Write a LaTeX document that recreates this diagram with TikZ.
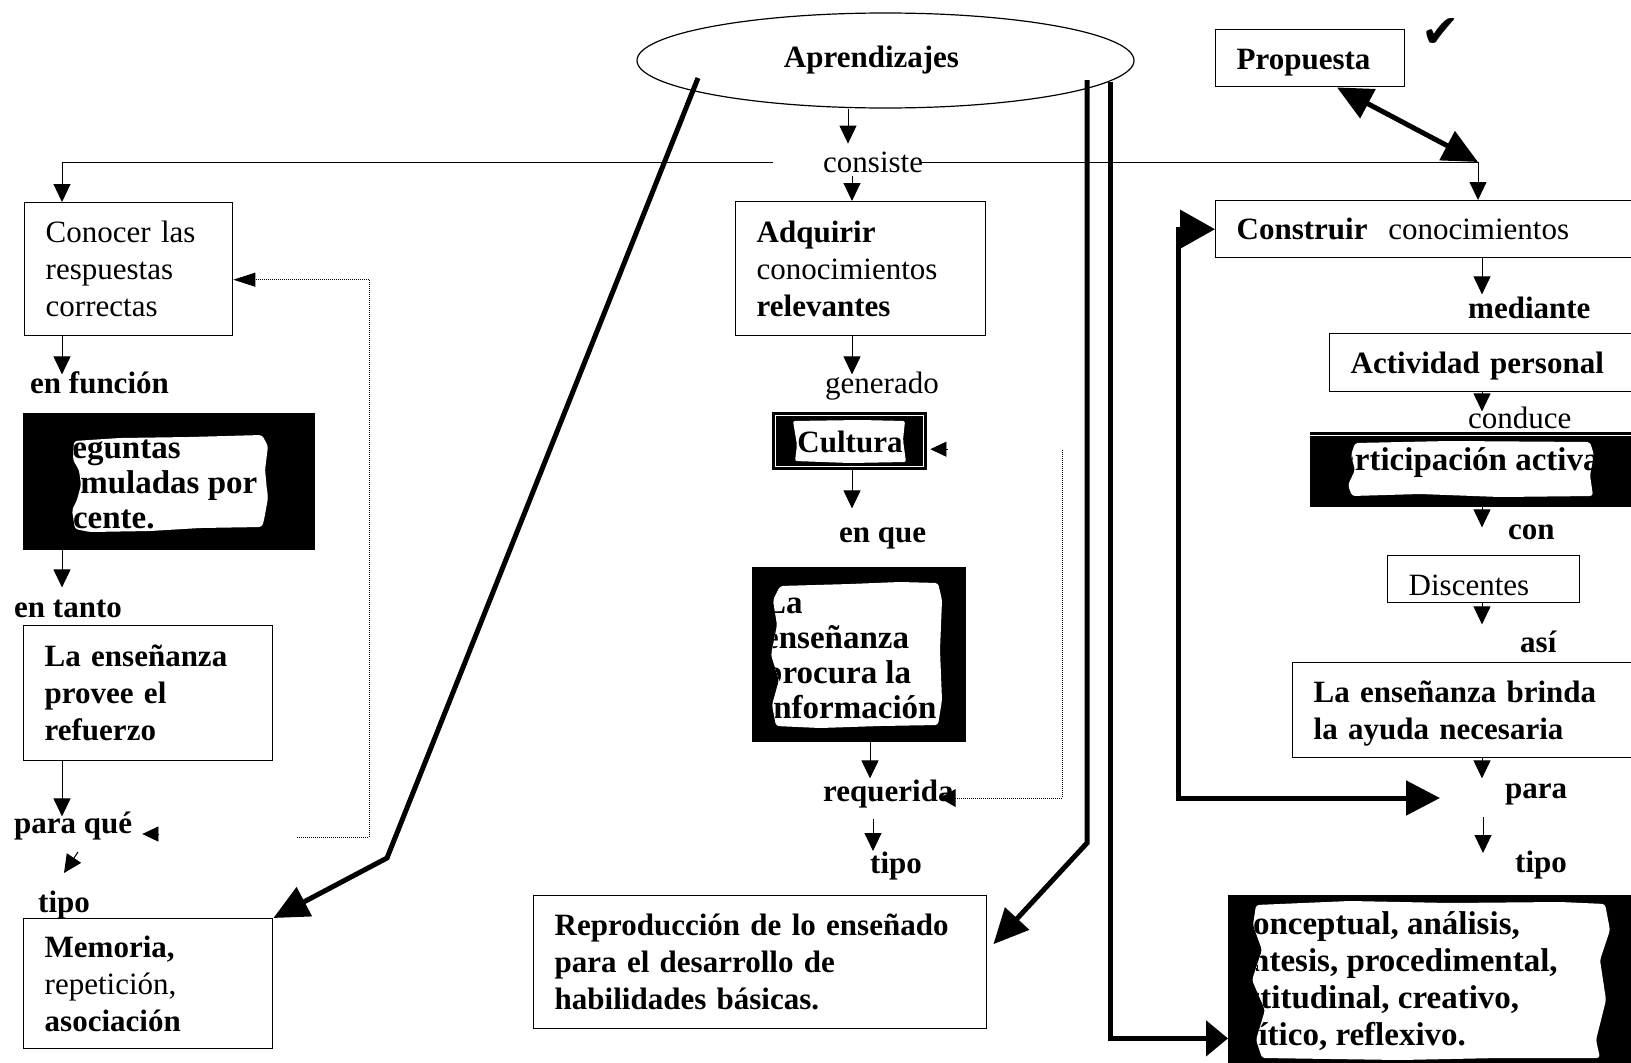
\documentclass[tikz,border=0pt]{standalone}
\usepackage{fontspec}
\setmainfont{Liberation Serif}
\newfontfamily\symfont{DejaVu Sans}
\usetikzlibrary{arrows.meta,calc,shapes.geometric}
\newcommand\bsz{\fontsize{31}{37}\selectfont}
\newcommand\ksz{\fontsize{33}{35}\selectfont}

\begin{document}
\begin{tikzpicture}[x=1pt,y=-1pt,
  cbox/.style={draw, line width=1.4pt, anchor=north west, inner xsep=21pt, inner ysep=0pt,
               align=left, font=\bsz\bfseries},
  kbox/.style={fill=black, anchor=north west, inner sep=0pt},
  ktxt/.style={anchor=north west, inner sep=0pt, align=left, font=\ksz\bfseries},
  lbl/.style={anchor=base west, inner sep=0pt, font=\bsz\bfseries},
  lblr/.style={anchor=base west, inner sep=0pt, font=\bsz},
  arr/.style={line width=1pt, -{Triangle[length=18pt,width=17pt]}},
  tiponly/.style={line width=0.6pt, -{Triangle[length=16pt,width=15pt]}},
  dotl/.style={line width=1pt, densely dotted},
  thk/.style={line width=5pt},
  bigtip/.style={-{Triangle[length=35pt,width=32pt]}},
]
\useasboundingbox (0,0) rectangle (1631,1063);
\clip (0,0) rectangle (1631,1063);

% ---------- top ----------
\node[draw, ellipse, line width=1.2pt, minimum width=497pt, minimum height=95pt,
      inner sep=0pt, font=\bsz\bfseries] (aprend) at (885.5,60.5) {Aprendizajes\hspace*{28pt}};
\node[lblr] (consiste) at (823,172) {consiste};

% ---------- left column ----------
\node[cbox, font=\bsz, minimum width=208pt, minimum height=133pt, text width=166pt, inner xsep=19pt]
      (conocer) at (24,202) {Conocer las\\respuestas\\correctas};
\node[lbl] (enfuncion) at (30,393) {en función};

\node[kbox, minimum width=292pt, minimum height=137pt] (preg) at (23,413) {};
\begin{scope}
  \clip[rounded corners=3pt] (74,441) -- (120,438) -- (190,437) -- (262,435) -- (268,446)
     -- (265,470) -- (268,498) -- (264,520) -- (262,527) -- (200,528) -- (150,531)
     -- (90,532) -- (75,529) -- (72,510) -- (77,500) -- (81,485) -- (79,470) -- (73,460) -- cycle;
  \fill[white] (0,0) rectangle (1631,1063);
  \node[ktxt] (pregtxt) at (38,433.5) {\strut Preguntas\\formuladas por el\\docente.};
\end{scope}

\node[lbl] (entanto) at (14,617) {en tanto};
\node[cbox, minimum width=249pt, minimum height=135pt, text width=207pt]
      (provee) at (23,625) {La enseñanza\\provee el\\refuerzo};
\node[lbl] (paraque) at (14,833) {para qué};
\node[lbl] (tipoL) at (38,912) {tipo};
\node[cbox, minimum width=249pt, minimum height=130pt, text width=207pt]
      (memoria) at (23,918) {Memoria,\\{\mdseries repetición,}\\asociación};

% ---------- centre column ----------
\node[cbox, minimum width=250pt, minimum height=134pt, text width=208pt]
      (adquirir) at (735,201) {Adquirir\\{\mdseries conocimientos}\\relevantes};
\node[lblr] (generado) at (825,393) {generado};

\node[kbox, minimum width=155pt, minimum height=58pt] (cultura) at (772,412) {};
\draw[white, line width=1.2pt] (775.5,415.5) rectangle (923.5,466.5);
\fill[white, rounded corners=2pt] (793,421) -- (860,420) -- (905,421) -- (903,440) -- (906,462)
   -- (850,463) -- (795,461) -- (797,445) -- cycle;
\node[inner sep=0pt, anchor=base, font=\bsz\bfseries] (culturatxt) at (850,452) {Cultura};

\node[lbl] (enque) at (839,542) {en que};

\node[kbox, minimum width=214pt, minimum height=175pt] (ensen) at (752,567) {};
\begin{scope}
  \clip[rounded corners=3pt] (780,586) -- (850,584) -- (900,582) -- (938,583) -- (942,600)
     -- (940,650) -- (942,700) -- (938,725) -- (880,726) -- (820,728) -- (776,726)
     -- (772,705) -- (779,680) -- (771,655) -- (777,625) -- (773,600) -- cycle;
  \fill[white] (0,0) rectangle (1631,1063);
  \node[ktxt] (ensentxt) at (764,588.5) {\strut La\\enseñanza\\procura la\\información};
\end{scope}

\node[lbl] (requerida) at (823,801) {requerida};
\node[lbl] (tipoC) at (870,873) {tipo};
\node[cbox, minimum width=453pt, minimum height=133pt, text width=411pt]
      (reprod) at (533,895) {Reproducción de lo enseñado\\para el desarrollo de\\habilidades básicas.};

% ---------- right column ----------
\node[cbox, minimum width=189pt, minimum height=57pt, text width=147pt,
      text height=24pt, text depth=2pt] (propuesta) at (1215,29) {Propuesta};
\node[inner sep=0pt, font=\symfont\fontsize{46}{46}\selectfont] (check) at (1441,33) {✔};
\node[cbox, minimum width=440pt, minimum height=57pt, text width=398pt]
      (construir) at (1215,200) {Construir\ \ {\mdseries conocimientos}};
\node[lbl] (mediante) at (1468,318) {mediante};
\node[cbox, minimum width=330pt, minimum height=58pt, text width=288pt,
      text height=24pt, text depth=2pt] (actividad) at (1329,333) {Actividad personal};
\node[lblr] (conduce) at (1468,428) {conduce};

\node[kbox, minimum width=350pt, minimum height=75pt] (partic) at (1310,432) {};
\draw[white, line width=1.2pt] (1310,435.5) -- (1660,435.5);
\begin{scope}
  \clip[rounded corners=3pt] (1355,443) -- (1450,441) -- (1590,442) -- (1594,455) -- (1590,475)
     -- (1593,496) -- (1500,497) -- (1420,494) -- (1352,496) -- (1348,485) -- (1355,470)
     -- (1351,455) -- cycle;
  \fill[white] (0,0) rectangle (1631,1063);
  \node[ktxt] (partictxt) at (1318,445.5) {\strut Participación activa};
\end{scope}

\node[lbl] (con) at (1508,539) {con};
\node[cbox, font=\bsz, minimum width=192pt, minimum height=47pt, text width=150pt,
      text height=32pt, text depth=0pt] (discentes) at (1387,555) {Discentes};
\node[lbl] (asi) at (1520,652) {así};
\node[cbox, minimum width=360pt, minimum height=95pt, text width=318pt]
      (brinda) at (1292,662) {\rule{0pt}{28pt}La enseñanza brinda\\la ayuda necesaria};
\node[lbl] (para) at (1505,798) {para};
\node[lbl] (tipoR) at (1515,872) {tipo};

\node[kbox, minimum width=432pt, minimum height=175pt] (tipos) at (1228,895) {};
\begin{scope}
  \clip[rounded corners=3pt] (1256,905) -- (1350,901) -- (1450,903) -- (1560,902) -- (1605,904)
     -- (1610,930) -- (1600,960) -- (1606,1000) -- (1596,1040) -- (1600,1058) -- (1500,1058)
     -- (1400,1060) -- (1262,1058) -- (1256,1040) -- (1265,1010) -- (1252,980) -- (1262,950)
     -- (1253,925) -- cycle;
  \fill[white] (0,0) rectangle (1631,1063);
  \node[ktxt, font=\fontsize{33}{37}\selectfont\bfseries] (tipostxt) at (1229,908)
     {\strut Conceptual, análisis,\\síntesis, procedimental,\\actitudinal, creativo,\\crítico, reflexivo.};
\end{scope}

% ---------- thin connectors ----------
\draw[arr] ([xshift=-37.5pt]aprend.south) -- ++(0,35);
\draw[arr] ([xshift=29pt,yshift=-4pt]consiste.base west) -- ([xshift=117pt]adquirir.north west);
\draw[arr] ([xshift=-50pt,yshift=10pt]consiste.base west) -| ([xshift=38pt]conocer.north west);
\draw[arr] ([xshift=-3pt,yshift=10pt]consiste.base east) -| ([xshift=263pt]construir.north west);

\draw[arr] ([xshift=38pt]conocer.south west) -- ++(0,38);
\draw[arr] ([xshift=39pt]preg.south west) -- ++(0,37);
\draw[arr] ([xshift=39pt]provee.south west) -- ++(0,55);
\draw[arr] ([xshift=64pt,yshift=-19pt]paraque.base west) -- ([xshift=26pt,yshift=39pt]tipoL.base west);

\draw[arr] ([xshift=117pt]adquirir.south west) -- ++(0,38);
\draw[arr] ([xshift=80pt]cultura.south west) -- ++(0,38);
\draw[arr] ([xshift=118pt]ensen.south west) -- ++(0,36);
\draw[arr] ([xshift=50pt,yshift=-18pt]requerida.base west) -- ++(0,32);

\draw[arr] ([xshift=267pt]construir.south west) -- ++(0,36);
\draw[arr] ([xshift=153pt]actividad.south west) -- ++(0,19);
\draw[arr] ([xshift=172pt]partic.south west) -- ++(0,20);
\draw[arr] ([xshift=95pt]discentes.south west) -- ++(0,21);
\draw[arr] ([xshift=190pt]brinda.south west) -- ++(0,20);
\draw[arr] ([xshift=-22pt,yshift=-19pt]para.base west) -- ++(0,36);

% ---------- dotted feedback lines ----------
\draw[dotl, -{Triangle[length=22pt,width=14pt]}]
   ([xshift=165pt,yshift=-4pt]paraque.base east) -- ++(72,0) |- ([yshift=-10.5pt]conocer.east);
\draw[tiponly] ([xshift=26pt,yshift=-1pt]paraque.base east) -- ([xshift=10pt,yshift=-1pt]paraque.base east);

\coordinate (dtop) at (1062,450);
\draw[dotl, -{Triangle[length=16pt,width=18pt]}] (dtop) |- ([xshift=-14pt,yshift=3pt]requerida.base east);
\draw[tiponly] ([xshift=21pt,yshift=-8pt]cultura.east) -- ([xshift=3pt,yshift=-8pt]cultura.east);

% ---------- heavy connectors ----------
\draw[thk, {Triangle[length=35pt,width=32pt]}-{Triangle[length=35pt,width=32pt]}]
   ([xshift=122pt]propuesta.south west) -- ([xshift=263pt,yshift=38pt]construir.north west);

\coordinate (eL) at (698,78);
\draw[thk, bigtip] (eL) -- (387,858) -- (memoria.north east);

\coordinate (eA) at (1087,80);
\draw[thk, bigtip] (eA) -- (1087,843) -- ([xshift=6pt,yshift=18pt]reprod.east);

\coordinate (eB) at (1110,82);
\draw[thk, -{Triangle[length=22pt,width=35pt]}] (eB) |- ([yshift=32pt]tipos.south west);

\draw[thk, {Triangle[length=34pt,width=34pt]}-{Triangle[length=35pt,width=38pt]}]
   ([xshift=-65pt]para.base west) -- ++(-262,0) |- (construir.west);

\end{tikzpicture}
\end{document}
